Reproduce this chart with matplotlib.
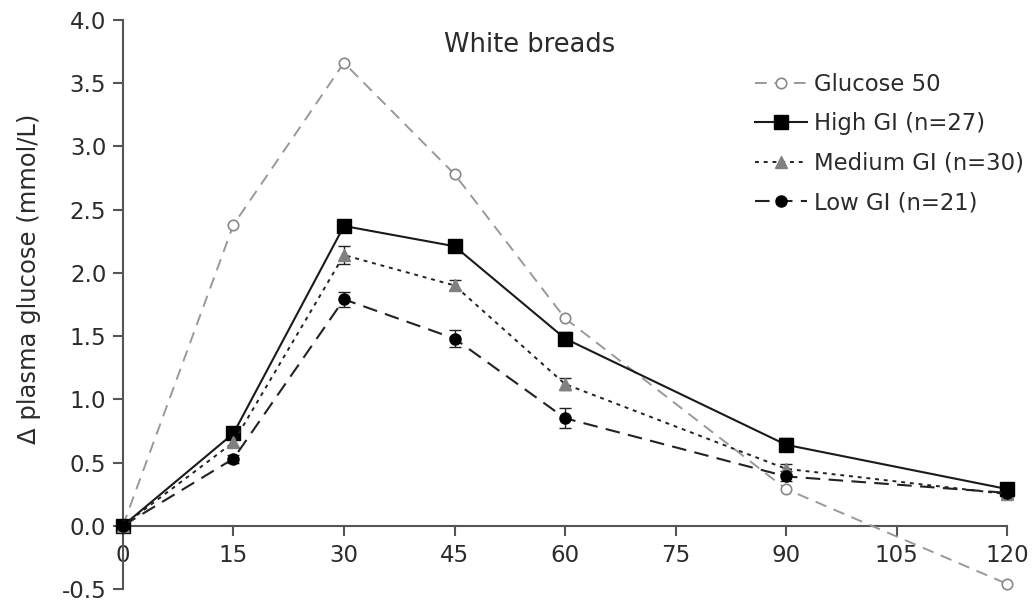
import matplotlib as mpl
mpl.use("Agg")
import matplotlib.pyplot as plt
import numpy as np

# time points (min)
minutes = [0, 15, 30, 45, 60, 90, 120]

glucose50 = [0.0, 2.38, 3.66, 2.78, 1.64, 0.29, -0.46]
high_gi = [0.0, 0.73, 2.37, 2.21, 1.48, 0.64, 0.29]
high_err = [0.0, 0.04, 0.05, 0.04, 0.05, 0.05, 0.04]
medium_gi = [0.0, 0.66, 2.14, 1.90, 1.12, 0.45, 0.25]
medium_err = [0.0, 0.04, 0.07, 0.04, 0.05, 0.04, 0.03]
low_gi = [0.0, 0.53, 1.79, 1.48, 0.85, 0.39, 0.26]
low_err = [0.0, 0.03, 0.06, 0.07, 0.08, 0.04, 0.03]

labels = ["Glucose 50", "High GI (n=27)", "Medium GI (n=30)", "Low GI (n=21)"]
xticks = [0, 15, 30, 45, 60, 75, 90, 105, 120]
yticks = np.arange(-0.5, 4.01, 0.5)

plt.rcParams['font.family'] = ['DejaVu Sans']
txt = '#2b2b2b'

fig = plt.figure(figsize=(10.33, 6.01), dpi=100)
ax = fig.add_axes([0.119, 0.020, 0.856, 0.947])

g, = ax.plot(minutes, glucose50, color='#999999', ls=(0, (6, 4)), lw=1.4, marker='o',
             ms=7.5, mfc='white', mec='#888888', mew=1.2, label=labels[0], clip_on=False, zorder=3)
h = ax.errorbar(minutes, high_gi, yerr=high_err, color='#1a1a1a', ls='-', lw=1.5, marker='s',
                ms=9.5, mfc='black', mec='black', capsize=4, elinewidth=1, label=labels[1],
                clip_on=False, zorder=4)
m = ax.errorbar(minutes, medium_gi, yerr=medium_err, color='#222222', ls=(0, (2, 2.5)), lw=1.4,
                marker='^', ms=9, mfc='#808080', mec='#808080', ecolor='#222222', capsize=4,
                elinewidth=1, label=labels[2], clip_on=False, zorder=4)
lo = ax.errorbar(minutes, low_gi, yerr=low_err, color='#222222', ls=(0, (7, 4)), lw=1.5,
                 marker='o', ms=8, mfc='black', mec='black', capsize=4, elinewidth=1,
                 label=labels[3], clip_on=False, zorder=4)

ax.set_xlim(0, 120)
ax.set_ylim(-0.5, 4.0)
ax.spines['top'].set_visible(False)
ax.spines['right'].set_visible(False)
ax.spines['bottom'].set_position(('data', 0))
for s in ('left', 'bottom'):
    ax.spines[s].set_color('#555555')
    ax.spines[s].set_linewidth(1.5)
ax.set_xticks(xticks)
ax.set_yticks(yticks)
ax.set_yticklabels(['%.1f' % v for v in yticks])
ax.tick_params(axis='both', colors='#555555', labelcolor=txt, labelsize=16.5,
               length=7, width=1.5, direction='out')
ax.tick_params(axis='x', pad=6)
ax.tick_params(axis='y', pad=5)

# y label placed by hand, it sits a bit above the axes centre in the original
fig.text(29 / 1033, 1 - 279 / 601, 'Δ plasma glucose (mmol/L)', rotation=90,
         ha='center', va='center', fontsize=17.5, color=txt)
fig.text(530 / 1033, 1 - 45 / 601, 'White breads', ha='center', va='center',
         fontsize=18.5, color=txt)

leg = fig.legend([g, h[0], m[0], lo[0]], labels, loc='upper left',
                 bbox_to_anchor=(755 / 1033, 1 - 73 / 601), frameon=False,
                 fontsize=16.4, labelcolor=txt, handlelength=2.3, handletextpad=0.3,
                 labelspacing=0.72, borderpad=0, borderaxespad=0)

fig.savefig('out.png', dpi=100)
